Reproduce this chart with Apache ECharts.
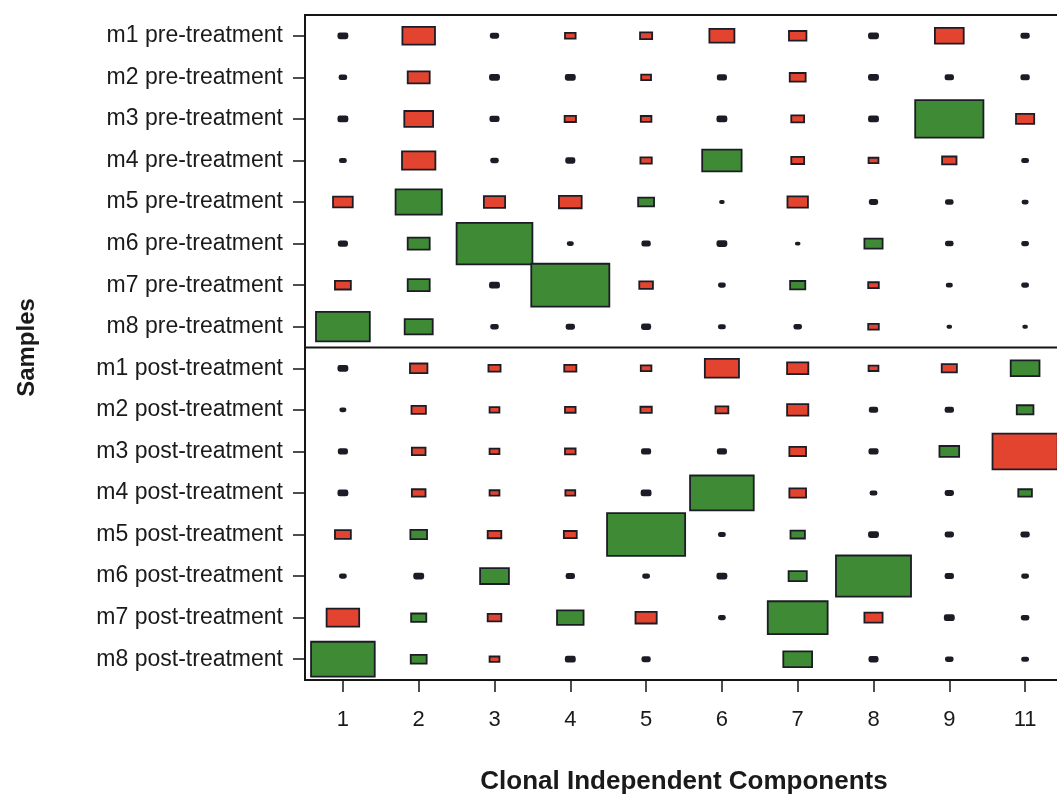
<!DOCTYPE html>
<html>
<head>
<meta charset="utf-8">
<style>
  html, body { margin: 0; padding: 0; background: #ffffff; }
  #chart { width: 1057px; height: 794px; }
</style>
<script src="https://cdn.jsdelivr.net/npm/echarts@6/dist/echarts.min.js"></script>
</head>
<body>
<div id="chart"></div>
<script>
// Columns: clonal independent components
const components = ['1', '2', '3', '4', '5', '6', '7', '8', '9', '11'];
// Rows: samples (top to bottom)
const samples = [
  'm1 pre-treatment', 'm2 pre-treatment', 'm3 pre-treatment', 'm4 pre-treatment',
  'm5 pre-treatment', 'm6 pre-treatment', 'm7 pre-treatment', 'm8 pre-treatment',
  'm1 post-treatment', 'm2 post-treatment', 'm3 post-treatment', 'm4 post-treatment',
  'm5 post-treatment', 'm6 post-treatment', 'm7 post-treatment', 'm8 post-treatment'
];
// Signed loadings per sample (positive = red, negative = green), columns in order of components
const m1Pre  = [0.12, 0.43, 0.10, 0.14, 0.16, 0.33, 0.23, 0.12, 0.38, 0.10];
const m2Pre  = [0.09, 0.29, 0.12, 0.12, 0.13, 0.11, 0.21, 0.12, 0.10, 0.10];
const m3Pre  = [0.12, 0.38, 0.11, 0.15, 0.14, 0.12, 0.17, 0.12, -0.90, 0.24];
const m4Pre  = [0.08, 0.44, 0.09, 0.11, 0.15, -0.52, 0.17, 0.13, 0.19, 0.08];
const m5Pre  = [0.26, -0.61, 0.28, 0.30, -0.21, 0.05, 0.27, 0.10, 0.09, 0.07];
const m6Pre  = [0.11, -0.29, -1.00, 0.07, 0.10, 0.12, 0.05, -0.24, 0.09, 0.08];
const m7Pre  = [0.21, -0.29, 0.12, -1.03, 0.18, 0.08, -0.20, 0.14, 0.07, 0.08];
const m8Pre  = [-0.71, -0.37, 0.09, 0.10, 0.11, 0.08, 0.09, 0.14, 0.05, 0.05];
const m1Post = [0.12, 0.23, 0.16, 0.16, 0.14, 0.45, 0.28, 0.13, 0.20, -0.38];
const m2Post = [0.07, 0.19, 0.13, 0.14, 0.15, 0.17, 0.28, 0.10, 0.10, -0.22];
const m3Post = [0.11, 0.18, 0.13, 0.14, 0.11, 0.11, 0.22, 0.11, -0.26, 0.86];
const m4Post = [0.12, 0.18, 0.13, 0.13, 0.12, -0.84, 0.22, 0.08, 0.10, -0.18];
const m5Post = [0.21, -0.22, 0.18, 0.17, -1.03, 0.08, -0.19, 0.12, 0.10, 0.10];
const m6Post = [0.08, 0.12, -0.38, 0.10, 0.08, 0.12, -0.24, -0.99, 0.10, 0.08];
const m7Post = [0.43, -0.20, 0.18, -0.35, 0.28, 0.08, -0.79, 0.24, 0.12, 0.09];
const m8Post = [-0.84, -0.21, 0.13, 0.12, 0.10, 0, -0.38, 0.11, 0.09, 0.08];

const rows = [m1Pre, m2Pre, m3Pre, m4Pre, m5Pre, m6Pre, m7Pre, m8Pre,
              m1Post, m2Post, m3Post, m4Post, m5Post, m6Post, m7Post, m8Post];

const data = [];
rows.forEach(function (row, r) {
  row.forEach(function (v, c) { data.push([c, r, v]); });
});

const RED = '#e2442f';
const GREEN = '#3f8a34';
const EDGE = '#1c1c26';
const FONT = "'Liberation Sans', Arial, Helvetica, sans-serif";

const chart = echarts.init(document.getElementById('chart'), null, { renderer: 'canvas' });
chart.setOption({
  backgroundColor: '#ffffff',
  animation: false,
  grid: {
    left: 305, top: 15, width: 758, height: 665,
    outerBoundsMode: 'none',
    containLabel: false,
    show: true, borderColor: '#151515', borderWidth: 2, backgroundColor: 'transparent'
  },
  xAxis: {
    type: 'category',
    data: components,
    boundaryGap: true,
    name: 'Clonal Independent Components',
    nameLocation: 'middle',
    nameGap: 89,
    nameTextStyle: { fontFamily: FONT, fontSize: 26, fontWeight: 'bold', color: '#1a1a1a' },
    axisLine: { show: true, lineStyle: { color: '#151515', width: 2 } },
    axisTick: { show: true, alignWithLabel: true, length: 12, lineStyle: { color: '#151515', width: 1.5 } },
    axisLabel: { margin: 29, fontFamily: FONT, fontSize: 22, color: '#1a1a1a' },
    splitLine: { show: false }
  },
  yAxis: {
    type: 'category',
    data: samples,
    inverse: true,
    boundaryGap: true,
    name: 'Samples',
    nameLocation: 'middle',
    nameGap: 266,
    nameRotate: 90,
    nameTextStyle: { fontFamily: FONT, fontSize: 24, fontWeight: 'bold', color: '#1a1a1a' },
    axisLine: { show: true, lineStyle: { color: '#151515', width: 2 } },
    axisTick: { show: true, alignWithLabel: true, length: 12, lineStyle: { color: '#151515', width: 1.5 } },
    axisLabel: { margin: 22, fontFamily: FONT, fontSize: 23, color: '#1a1a1a' },
    splitLine: { show: false }
  },
  series: [
    {
      type: 'custom',
      data: data,
      clip: true,
      renderItem: function (params, api) {
        const v = api.value(2);
        if (!v) return null;
        const c = api.coord([api.value(0), api.value(1)]);
        const band = api.size([1, 1]);
        const a = Math.abs(v);
        const w = a * band[0];
        const h = a * band[1];
        const fill = a < 0.13 ? EDGE : (v > 0 ? RED : GREEN);
        return {
          type: 'rect',
          shape: { x: c[0] - w / 2, y: c[1] - h / 2, width: w, height: h, r: a < 0.13 ? 1.5 : 0 },
          style: { fill: fill, stroke: EDGE, lineWidth: 1.8 }
        };
      }
    },
    {
      type: 'custom',
      data: [[0, 7, 8]],
      z: 5,
      renderItem: function (params, api) {
        const cs = params.coordSys;
        const yA = api.coord([0, api.value(1)])[1];
        const yB = api.coord([0, api.value(2)])[1];
        const y = (yA + yB) / 2;
        return {
          type: 'line',
          shape: { x1: cs.x, y1: y, x2: cs.x + cs.width, y2: y },
          style: { stroke: '#151515', lineWidth: 2 }
        };
      }
    }
  ]
});
</script>
</body>
</html>
